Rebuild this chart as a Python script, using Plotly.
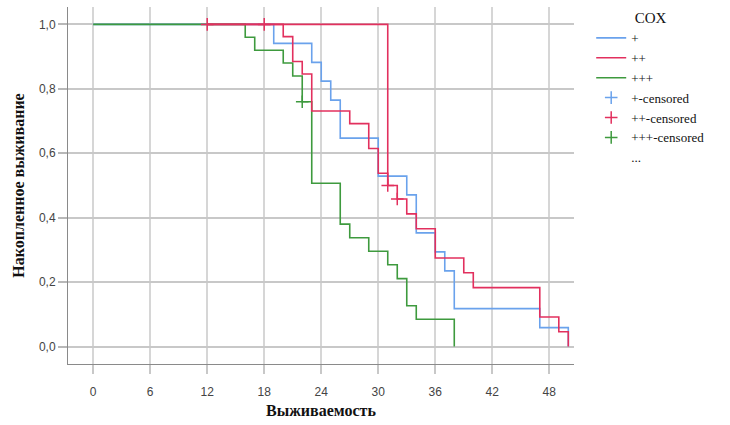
import plotly.graph_objects as go

# Kaplan-Meier data
blue_t = [0, 19, 23, 24, 25, 26, 30, 33, 34, 36, 37, 38, 47, 50]
blue_s = [1.0, 0.941, 0.882, 0.824, 0.765, 0.647, 0.529, 0.471, 0.353, 0.294, 0.235, 0.118, 0.059, 0.0]

red_t = [12, 20, 21, 22, 23, 27, 29, 30, 31, 32, 33, 34, 36, 39, 40, 47, 49, 50]
red_s = [1.0, 0.962, 0.885, 0.846, 0.731, 0.692, 0.615, 0.538, 0.500, 0.458, 0.412, 0.366, 0.275, 0.229, 0.183, 0.092, 0.046, 0.0]
red_extra_t = [12, 31, 31]
red_extra_s = [1.0, 1.0, 0.500]
red_cens_t = [12, 18, 31, 32]
red_cens_s = [1.0, 1.0, 0.500, 0.458]

green_t = [0, 16, 17, 20, 21, 22, 23, 26, 27, 29, 31, 32, 33, 34, 38]
green_s = [1.0, 0.96, 0.92, 0.88, 0.84, 0.76, 0.507, 0.380, 0.338, 0.296, 0.254, 0.211, 0.127, 0.085, 0.0]
green_cens_t = [22]
green_cens_s = [0.76]

x_ticks = [0, 6, 12, 18, 24, 30, 36, 42, 48]
y_ticks = [0.0, 0.2, 0.4, 0.6, 0.8, 1.0]

BLUE = "#6AA2EC"
RED = "#E2305E"
GREEN = "#3E9A3E"
LW = 1.6

fig = go.Figure()
fig.add_trace(go.Scatter(x=blue_t, y=blue_s, mode="lines", line=dict(color=BLUE, width=LW, shape="hv"),
                         name="+", legendrank=1))
fig.add_trace(go.Scatter(x=green_t, y=green_s, mode="lines", line=dict(color=GREEN, width=LW, shape="hv"),
                         name="+++", legendrank=3))
fig.add_trace(go.Scatter(x=red_t, y=red_s, mode="lines", line=dict(color=RED, width=LW, shape="hv"),
                         name="++", legendrank=2))
fig.add_trace(go.Scatter(x=red_extra_t, y=red_extra_s, mode="lines", line=dict(color=RED, width=LW, shape="hv"),
                         showlegend=False, hoverinfo="skip"))

cmark = dict(symbol="cross-thin", size=9)
fig.add_trace(go.Scatter(x=[None], y=[None], mode="markers",
                         marker=dict(**cmark, color=BLUE, line=dict(color=BLUE, width=1.5)),
                         name="+-censored", legendrank=4))
fig.add_trace(go.Scatter(x=red_cens_t, y=red_cens_s, mode="markers",
                         marker=dict(**cmark, color=RED, line=dict(color=RED, width=1.5)),
                         name="++-censored", legendrank=5))
fig.add_trace(go.Scatter(x=green_cens_t, y=green_cens_s, mode="markers",
                         marker=dict(**cmark, color=GREEN, line=dict(color=GREEN, width=1.5)),
                         name="+++-censored", legendrank=6))
fig.add_trace(go.Scatter(x=[None], y=[None], mode="markers",
                         marker=dict(size=1, color="rgba(0,0,0,0)"),
                         name="...", legendrank=7))

fig.update_layout(
    width=730, height=425,
    margin=dict(l=68, r=156, t=7, b=61, autoexpand=False),
    paper_bgcolor="white", plot_bgcolor="white",
    separators=", ",
    showlegend=True,
    legend=dict(
        x=1.034, xanchor="left", y=1.01, yanchor="top",
        font=dict(family="Liberation Serif", size=13, color="#111"),
        title=dict(text="COX", side="top center",
                   font=dict(family="Liberation Serif", size=15, color="#111")),
        tracegroupgap=0, itemwidth=30, bgcolor="rgba(0,0,0,0)",
    ),
    xaxis=dict(
        range=[-2.65, 50.6], tickvals=x_ticks, ticktext=[str(v) for v in x_ticks],
        showgrid=True, gridcolor="#d6d6d6", gridwidth=1.5, automargin=False,
        zeroline=False, showline=True, linecolor="#8a8a8a", linewidth=1,
        ticks="outside", ticklen=9, tickcolor="#c8c8c8", tickwidth=1.5,
        ticklabelstandoff=8,
        tickfont=dict(family="Liberation Sans", size=12, color="#444"),
        title=dict(text="<b>Выживаемость</b>", standoff=6,
                   font=dict(family="Liberation Serif", size=16, color="#111")),
    ),
    yaxis=dict(
        range=[-0.054, 1.054], tickvals=y_ticks, tickformat=".1f",
        showgrid=True, gridcolor="#c8c8c8", gridwidth=1.5, automargin=False,
        zeroline=False, showline=True, linecolor="#8a8a8a", linewidth=1,
        ticks="outside", ticklen=9, tickcolor="#b8b8b8", tickwidth=1.5,
        tickfont=dict(family="Liberation Sans", size=12, color="#444"),
        title=dict(text="<b>Накопленное выживание</b>", standoff=10,
                   font=dict(family="Liberation Serif", size=16, color="#111")),
    ),
)

fig.write_html("out.html", config={"displayModeBar": False},
               post_script="document.body.style.margin='0';")
